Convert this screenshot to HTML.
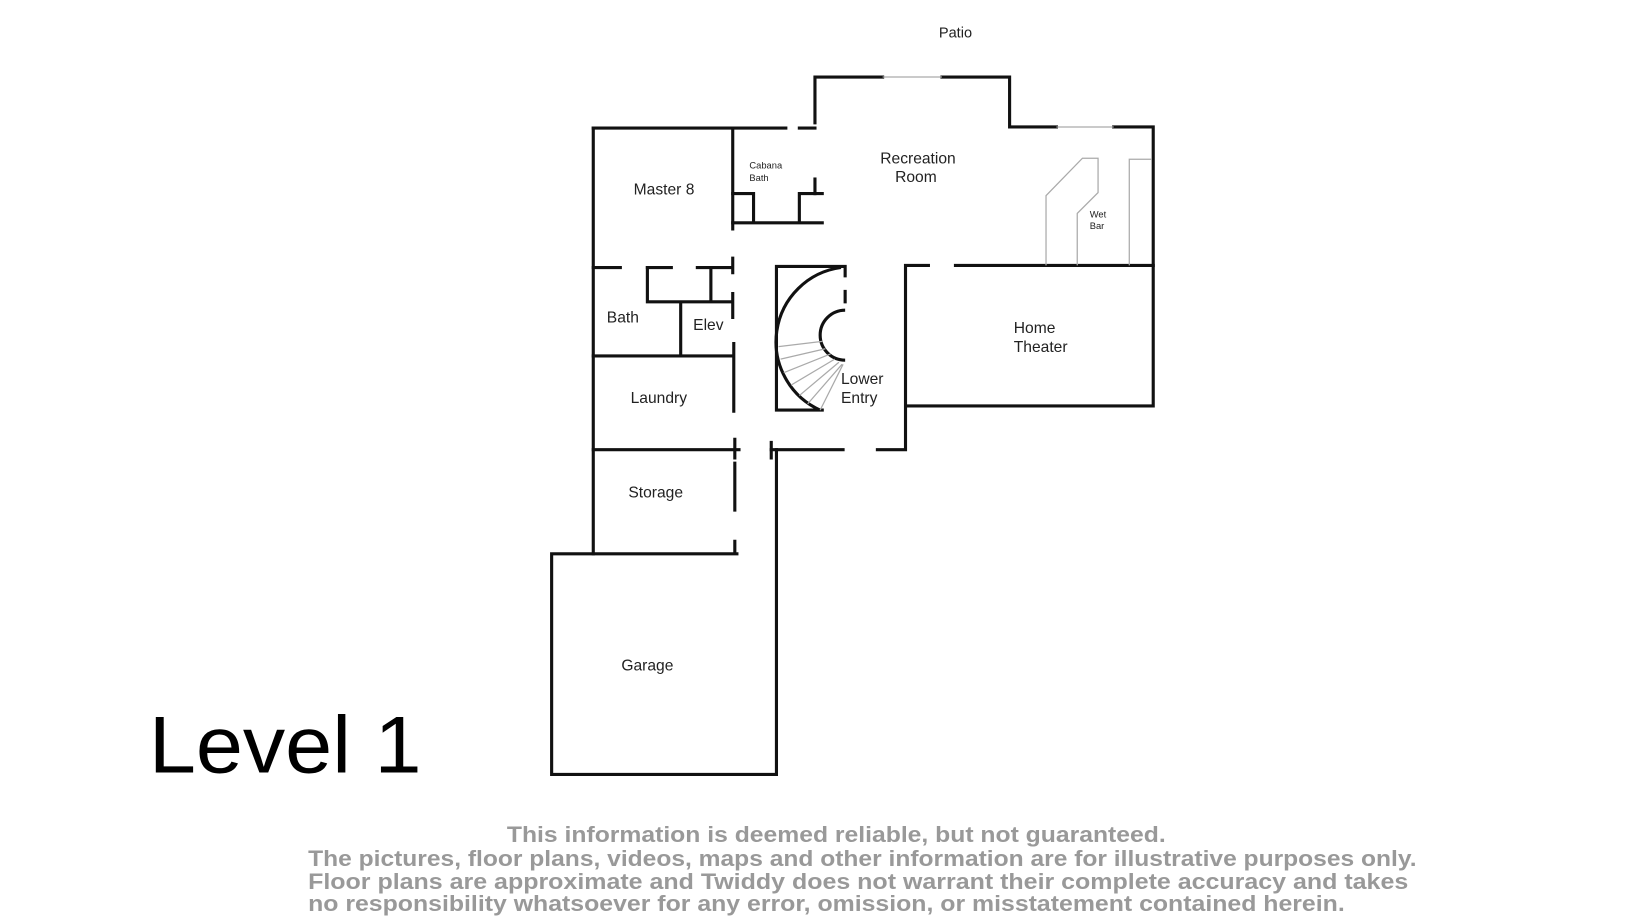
<!DOCTYPE html>
<html><head><meta charset="utf-8"><style>
html,body{margin:0;padding:0;background:#fff;}
svg{display:block}
text{font-family:"Liberation Sans",sans-serif;}
</style></head><body>
<svg width="1632" height="916" viewBox="0 0 1568 880" preserveAspectRatio="none">
<g stroke="#111" stroke-width="3" fill="none" stroke-linecap="square">
<path d="M783,118 V74 H848 M905,74 H970 V122 H1015 M1070,122 H1108 V390 H872"/>
<path d="M783,172 V186"/>
<path d="M570,123 H755 M768,123 H783"/>
<path d="M570,123 V532"/>
<path d="M704,123 V220"/>
<path d="M704,186 H724 V214 M768,214 V186 H790 M704,214 H790"/>
<path d="M570,257 H596 M622,257 H645 M670,257 H704 M704,248 V262"/>
<path d="M622,257 V290 H704 M683,257 V290 M654,290 V342 M704,282 V305"/>
<path d="M570,342 H705 M705,330 V395"/>
<path d="M570,432 H710 M706,422 V440 M741,432 H810 M843,432 H870 V255 H892 M918,255 H1108"/>
<path d="M746,256 V394 H790 M746,256 H812 V265 M812,280 V290"/>
<path d="M706,445 V490 M706,520 V532 M530,532 H708 M530,532 V744 H746 V432 M741,425 V440"/>
</g>
<path d="M808,257 A72,72 0 0 0 788,394" stroke="#111" stroke-width="3" fill="none"/>
<path d="M812,298 A24,24 0 0 0 812,346" stroke="#111" stroke-width="3" fill="none"/>
<g stroke="#aaa" stroke-width="1.2" fill="none">
<path d="M848,74 H905 M1015,122 H1070"/>
<path d="M748,333 L790,328 M750,345 L793,335 M753,358 L798,340 M760,370 L802,345 M768,380 L806,348 M776,388 L809,350 M788,394 L810,350"/>
<path d="M1005,255 V188 L1040,152 H1055 V185 L1035,205 V255"/>
<path d="M1085,255 V153 H1106"/>
</g>
<g fill="#222" font-size="15">
<text x="918" y="36" text-anchor="middle" font-size="14">Patio</text>
<text x="882" y="157" text-anchor="middle">Recreation</text>
<text x="880" y="175" text-anchor="middle">Room</text>
<text x="638" y="187" text-anchor="middle">Master 8</text>
<text x="720" y="162" font-size="9">Cabana</text>
<text x="720" y="174" font-size="9">Bath</text>
<text x="1047" y="209" font-size="9">Wet</text>
<text x="1047" y="220" font-size="9">Bar</text>
<text x="583" y="310">Bath</text>
<text x="666" y="317">Elev</text>
<text x="974" y="320">Home</text>
<text x="974" y="338">Theater</text>
<text x="808" y="369">Lower</text>
<text x="808" y="387">Entry</text>
<text x="633" y="387" text-anchor="middle">Laundry</text>
<text x="630" y="478" text-anchor="middle">Storage</text>
<text x="622" y="644" text-anchor="middle">Garage</text>
</g>
<text x="143" y="742" font-size="78" fill="#000" textLength="262" lengthAdjust="spacingAndGlyphs">Level 1</text>
<g fill="#999" font-weight="bold" font-size="21">
<text x="487" y="809" textLength="633" lengthAdjust="spacingAndGlyphs">This information is deemed reliable, but not guaranteed.</text>
<text x="296" y="832" textLength="1065" lengthAdjust="spacingAndGlyphs">The pictures, floor plans, videos, maps and other information are for illustrative purposes only.</text>
<text x="296" y="854" textLength="1057" lengthAdjust="spacingAndGlyphs">Floor plans are approximate and Twiddy does not warrant their complete accuracy and takes</text>
<text x="296" y="875" textLength="996" lengthAdjust="spacingAndGlyphs">no responsibility whatsoever for any error, omission, or misstatement contained herein.</text>
</g>
</svg>
</body></html>
